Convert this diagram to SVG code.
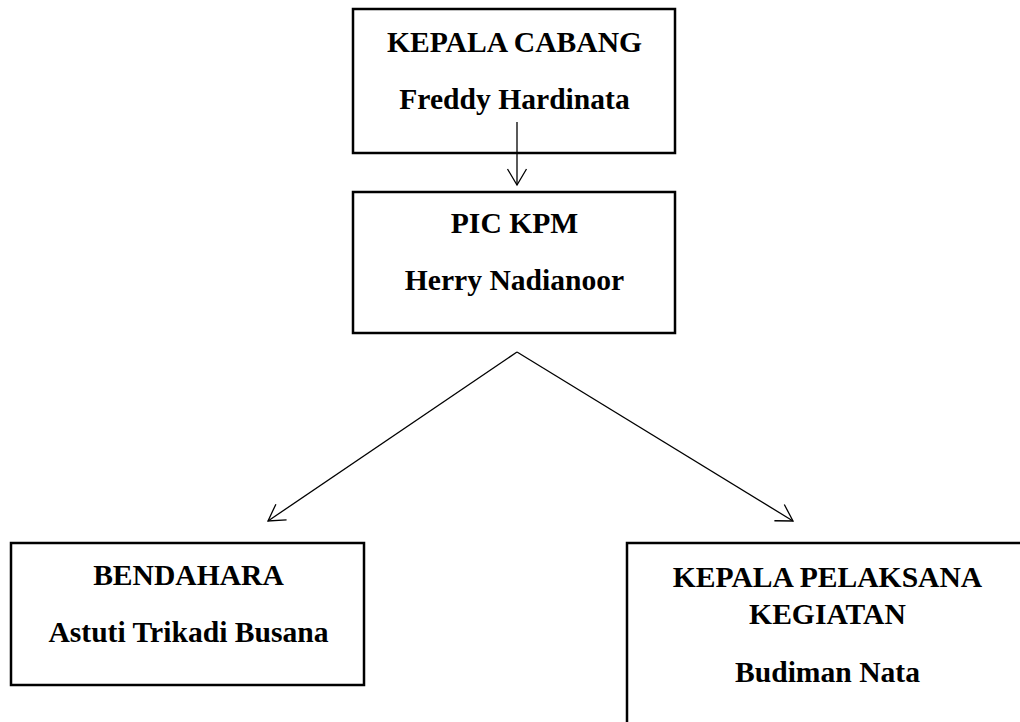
<svg xmlns="http://www.w3.org/2000/svg" width="1020" height="722" viewBox="0 0 1020 722">
<style>
.box{fill:#fff;stroke:#000;stroke-width:2.5}
.t{font-family:"Liberation Serif","Times New Roman",serif;font-weight:bold;font-size:29.6px;text-anchor:middle;fill:#000}
.c{fill:none;stroke:#000;stroke-width:1.3}
</style>
<defs>
<marker id="arr" markerUnits="userSpaceOnUse" markerWidth="40" markerHeight="40" viewBox="-20 -20 40 40" refX="0" refY="0" orient="auto" overflow="visible">
<path d="M-16,-9.5 L0,0 L-16,9.5" fill="none" stroke="#000" stroke-width="1.3"/>
</marker>
</defs>
<rect width="1020" height="722" fill="#fff"/>
<g id="kepala-cabang">
<rect class="box" x="353" y="9" width="322" height="144"/>
<text class="t" x="514.5" y="52">KEPALA CABANG</text>
<text class="t" x="514.5" y="109">Freddy Hardinata</text>
</g>
<g id="pic-kpm">
<rect class="box" x="353" y="192" width="322" height="141"/>
<text class="t" x="514.5" y="233">PIC KPM</text>
<text class="t" x="514.5" y="290">Herry Nadianoor</text>
</g>
<g id="bendahara">
<rect class="box" x="11" y="543" width="353" height="142"/>
<text class="t" x="188.5" y="585">BENDAHARA</text>
<text class="t" x="188.5" y="642">Astuti Trikadi Busana</text>
</g>
<g id="kepala-pelaksana">
<rect class="box" x="627" y="543" width="420" height="200"/>
<text class="t" x="827.5" y="587">KEPALA PELAKSANA</text>
<text class="t" x="827.5" y="624">KEGIATAN</text>
<text class="t" x="827.5" y="682">Budiman Nata</text>
</g>
<g id="connectors">
<line class="c" x1="517" y1="122" x2="517" y2="185" marker-end="url(#arr)"/>
<line class="c" x1="517" y1="352" x2="268" y2="521" marker-end="url(#arr)"/>
<line class="c" x1="517" y1="352" x2="793" y2="521" marker-end="url(#arr)"/>
</g>
</svg>
